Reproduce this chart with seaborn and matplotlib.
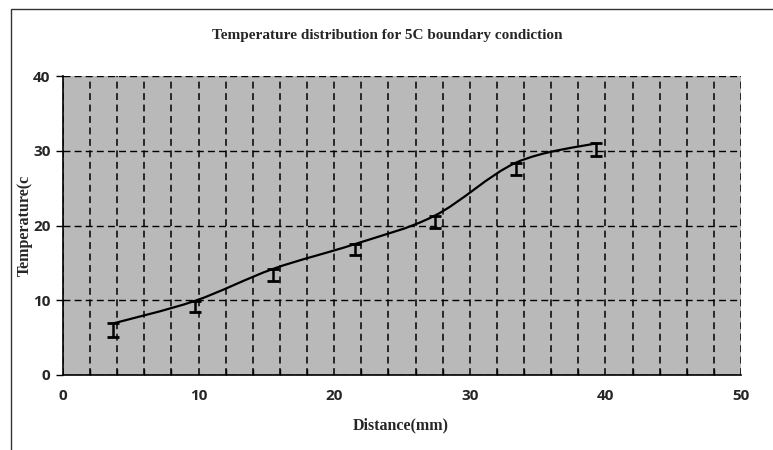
import numpy as np
import matplotlib
matplotlib.use("Agg")
import matplotlib.pyplot as plt
from matplotlib.path import Path
from matplotlib.patches import PathPatch, Rectangle
from matplotlib.ticker import MultipleLocator
import seaborn as sns

# ---- data ----
distance_mm = [3.7, 9.7, 15.5, 21.5, 27.4, 33.4, 39.3]
temperature_c = [6.9, 9.9, 14.2, 17.5, 21.3, 28.4, 31.0]
error_minus = [1.8, 1.5, 1.6, 1.5, 1.6, 1.7, 1.7]
x_ticks = [0, 10, 20, 30, 40, 50]
y_ticks = [0, 10, 20, 30, 40]

title_text = "Temperature distribution for 5C boundary condiction"
x_label = "Distance(mm)"
y_label = "Temperature(c"

sns.set_theme(style="white")
plt.rcParams["font.family"] = ["Liberation Serif", "DejaVu Serif"]

W, H = 773, 450
fig = plt.figure(figsize=(W / 100, H / 100), dpi=100)
fig.patch.set_facecolor("white")

# outer chart-area border (only top/left visible in the reference)
fig.patches.append(Rectangle((11 / W, -0.1), 1.2, 1 - 9 / H + 0.1,
                             transform=fig.transFigure, fill=False,
                             edgecolor="#333333", linewidth=1.0))

ax = fig.add_axes([63 / W, (H - 375) / H, (741 - 63) / W, (375 - 76) / H])
ax.set_facecolor("#b9b9b9")
ax.set_xlim(0, 50)
ax.set_ylim(0, 40)

# grid
ax.xaxis.set_major_locator(MultipleLocator(10))
ax.xaxis.set_minor_locator(MultipleLocator(2))
ax.yaxis.set_major_locator(MultipleLocator(10))
ax.grid(which="both", axis="x", color="black", linestyle=(0, (4.5, 3)), linewidth=1.1)
ax.grid(which="major", axis="y", color="black", linestyle=(0, (5, 3)), linewidth=1.0)
ax.set_axisbelow(True)

# smooth (Excel-style) line through the data
px = np.asarray(distance_mm, float)
py = np.asarray(temperature_c, float)
verts = [(px[0], py[0])]
codes = [Path.MOVETO]
n = len(px)
for i in range(n - 1):
    p0 = (px[max(i - 1, 0)], py[max(i - 1, 0)])
    p1 = (px[i], py[i])
    p2 = (px[i + 1], py[i + 1])
    p3 = (px[min(i + 2, n - 1)], py[min(i + 2, n - 1)])
    c1 = (p1[0] + (p2[0] - p0[0]) / 6, p1[1] + (p2[1] - p0[1]) / 6)
    c2 = (p2[0] - (p3[0] - p1[0]) / 6, p2[1] - (p3[1] - p1[1]) / 6)
    verts += [c1, c2, p2]
    codes += [Path.CURVE4] * 3
ax.add_patch(PathPatch(Path(verts, codes), facecolor="none",
                       edgecolor="black", linewidth=1.6, zorder=4))

# minus-only error bars
ax.errorbar(distance_mm, temperature_c, yerr=[error_minus, [0] * n],
            fmt="none", ecolor="black", elinewidth=1.8, capsize=4,
            capthick=2.0, zorder=5)

# ticks & spines
ax.set_xticks(x_ticks)
ax.set_yticks(y_ticks)
ax.tick_params(axis="x", which="major", direction="inout", length=8, width=1,
               color="black", labelsize=11, pad=6)
ax.tick_params(axis="x", which="minor", direction="in", length=4, width=1,
               color="black", bottom=True)
ax.tick_params(axis="y", which="major", direction="out", length=5, width=1,
               color="black", labelsize=11, pad=4, left=True)
for lab in ax.get_xticklabels() + ax.get_yticklabels():
    lab.set_fontweight("bold")
    lab.set_family(["Open Sans", "DejaVu Sans"])

for s in ["top", "right"]:
    ax.spines[s].set_visible(False)
for s in ["left", "bottom"]:
    ax.spines[s].set_color("black")
    ax.spines[s].set_linewidth(1.2)

fig.text(387 / W, 1 - 35 / H, title_text, ha="center", va="center",
         fontsize=11, fontweight="bold")
fig.text(401 / W, 1 - 425 / H, x_label, ha="center", va="center",
         fontsize=11.5, fontweight="bold")
fig.text(25 / W, 1 - 225 / H, y_label, ha="center", va="center",
         rotation=90, fontsize=11.5, fontweight="bold")

fig.savefig("out.png", dpi=100, facecolor="white")
